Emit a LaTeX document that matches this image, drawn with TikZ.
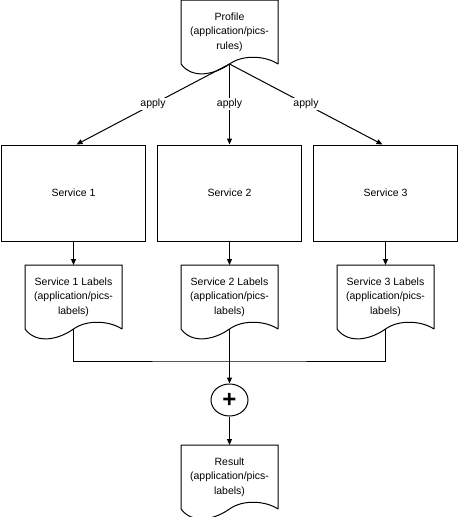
\documentclass[tikz,border=0pt]{standalone}
\usepackage{fontspec}
\setmainfont{Liberation Sans}
\usepackage{tikz}
\usetikzlibrary{arrows.meta,shapes.geometric}

\begin{document}
\begin{tikzpicture}[x=1pt, y=-1pt, >={Triangle[length=6pt,width=5pt]}, line width=1pt,
	node distance=156pt,
	every node/.style={font=\fontsize{10.5}{14.5}\selectfont, align=center},
	service/.style={draw, rectangle, minimum width=144pt, minimum height=96pt, inner sep=0pt},
	docu/.style={rectangle, minimum width=96pt, minimum height=63pt, inner sep=0pt},
	lbl/.style={fill=white, inner sep=1pt, pos=0.5},
	joint/.style={draw, ellipse, minimum width=37pt, minimum height=32pt, inner sep=0pt,
		font=\fontsize{24}{24}\bfseries\selectfont}]
	\useasboundingbox (0,0) rectangle (458,517);

	% Nodes {profile, services, labels, result}
	\node [docu]    (profile) at (229.5,32)         {Profile\\(application/pics-\\rules)};
	\node [service] (s1)      at (73.5,193)         {Service 1};
	\node [service] (s2)      [right of=s1]         {Service 2};
	\node [service] (s3)      [right of=s2]         {Service 3};
	\node [docu]    (l1)      [below of=s1, node distance=104pt] {Service 1 Labels\\(application/pics-\\labels)};
	\node [docu]    (l2)      [below of=s2, node distance=104pt] {Service 2 Labels\\(application/pics-\\labels)};
	\node [docu]    (l3)      [below of=s3, node distance=104pt] {Service 3 Labels\\(application/pics-\\labels)};
	\node [joint]   (plus)    [below of=l2, node distance=103pt] {+};
	\node [docu]    (result)  [below of=plus, node distance=77pt] {Result\\(application/pics-\\labels)};
	\coordinate (join) at (229.5,361);

	% Document outlines with wavy bottom
	\foreach \d in {profile,l1,l2,l3,result}
		\draw (\d.south east) -- (\d.north east) -- (\d.north west) -- (\d.south west)
			.. controls +(12,16) and +(-14,10) .. (\d.south)
			.. controls +(14,-10) and +(-12,-8) .. (\d.south east);

	% Paths
	\path [->]	(profile.south) edge node [lbl] {apply} ([xshift=3pt]s1.north)
				(profile.south) edge node [lbl] {apply} (s2.north)
				(profile.south) edge node [lbl] {apply} ([xshift=-3pt]s3.north)
				(s1) edge (l1)
				(s2) edge (l2)
				(s3) edge (l3)
				(l2.south) edge (plus)
				(plus) edge (result);
	\draw (l1.south) |- (join) -| (l3.south);
\end{tikzpicture}
\end{document}
